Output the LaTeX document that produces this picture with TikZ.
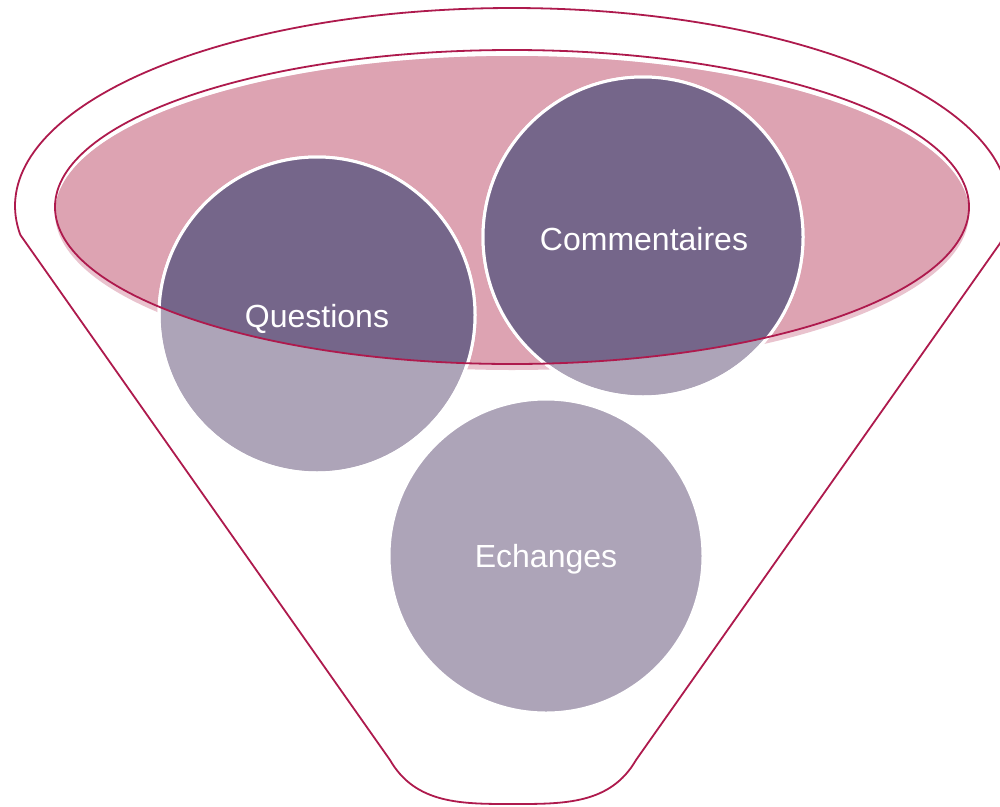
\documentclass[tikz,border=0pt]{standalone}
\usepackage{fontspec}
\setmainfont{Liberation Sans}
\definecolor{rim}{HTML}{AE1A4D}
\definecolor{pinkfill}{HTML}{DDA3B2}
\definecolor{pinkshadow}{HTML}{E9C3CE}
\definecolor{darkpurple}{HTML}{75668A}
\definecolor{lightpurple}{HTML}{ADA4B8}
\tikzset{
  rimline/.style={draw=rim, line width=1.8pt},
  bubble/.style={fill=lightpurple, draw=white, line width=3pt},
  label/.style={text=white, font=\fontsize{32}{38}\selectfont, anchor=base, inner sep=0pt}
}
\begin{document}
\begin{tikzpicture}[x=1pt,y=-1pt]
\useasboundingbox (0,0) rectangle (1000,806);
% funnel outline
\draw[rimline, fill=white] plot[domain=171.6:370.8, samples=150] ({512+497*cos(\x)},{206+198*sin(\x)})
  -- (636,760) to[out=-120,in=0] (513,804) to[out=180,in=-60] (390,760) -- cycle;
% pink opening: shadow and fill
\fill[pinkshadow] (512,213) ellipse [x radius=457, y radius=157];
\begin{scope}
  \clip (512,207) ellipse [x radius=457, y radius=157];
  \fill[pinkfill] (512,213) ellipse [x radius=457, y radius=157];
\end{scope}
% circles
\path[bubble] (546,556) circle [radius=157];
\path[bubble] (317,315) circle [radius=158];
\path[bubble] (643,237) circle [radius=160];
\begin{scope}
  \clip (512,207) ellipse [x radius=457, y radius=157];
  \fill[darkpurple] (317,315) circle [radius=158];
  \fill[darkpurple] (643,237) circle [radius=160];
\end{scope}
\draw[white, line width=3pt] (317,315) circle [radius=158];
\draw[white, line width=3pt] (643,237) circle [radius=160];
% rim of opening
\draw[rimline] (512,207) ellipse [x radius=457, y radius=157];
% labels
\node[label] (comm) at (644,250) {Commentaires};
\node[label] (quest) at (317,327) {Questions};
\node[label] (ech) at (546,567) {Echanges};
\end{tikzpicture}
\end{document}
